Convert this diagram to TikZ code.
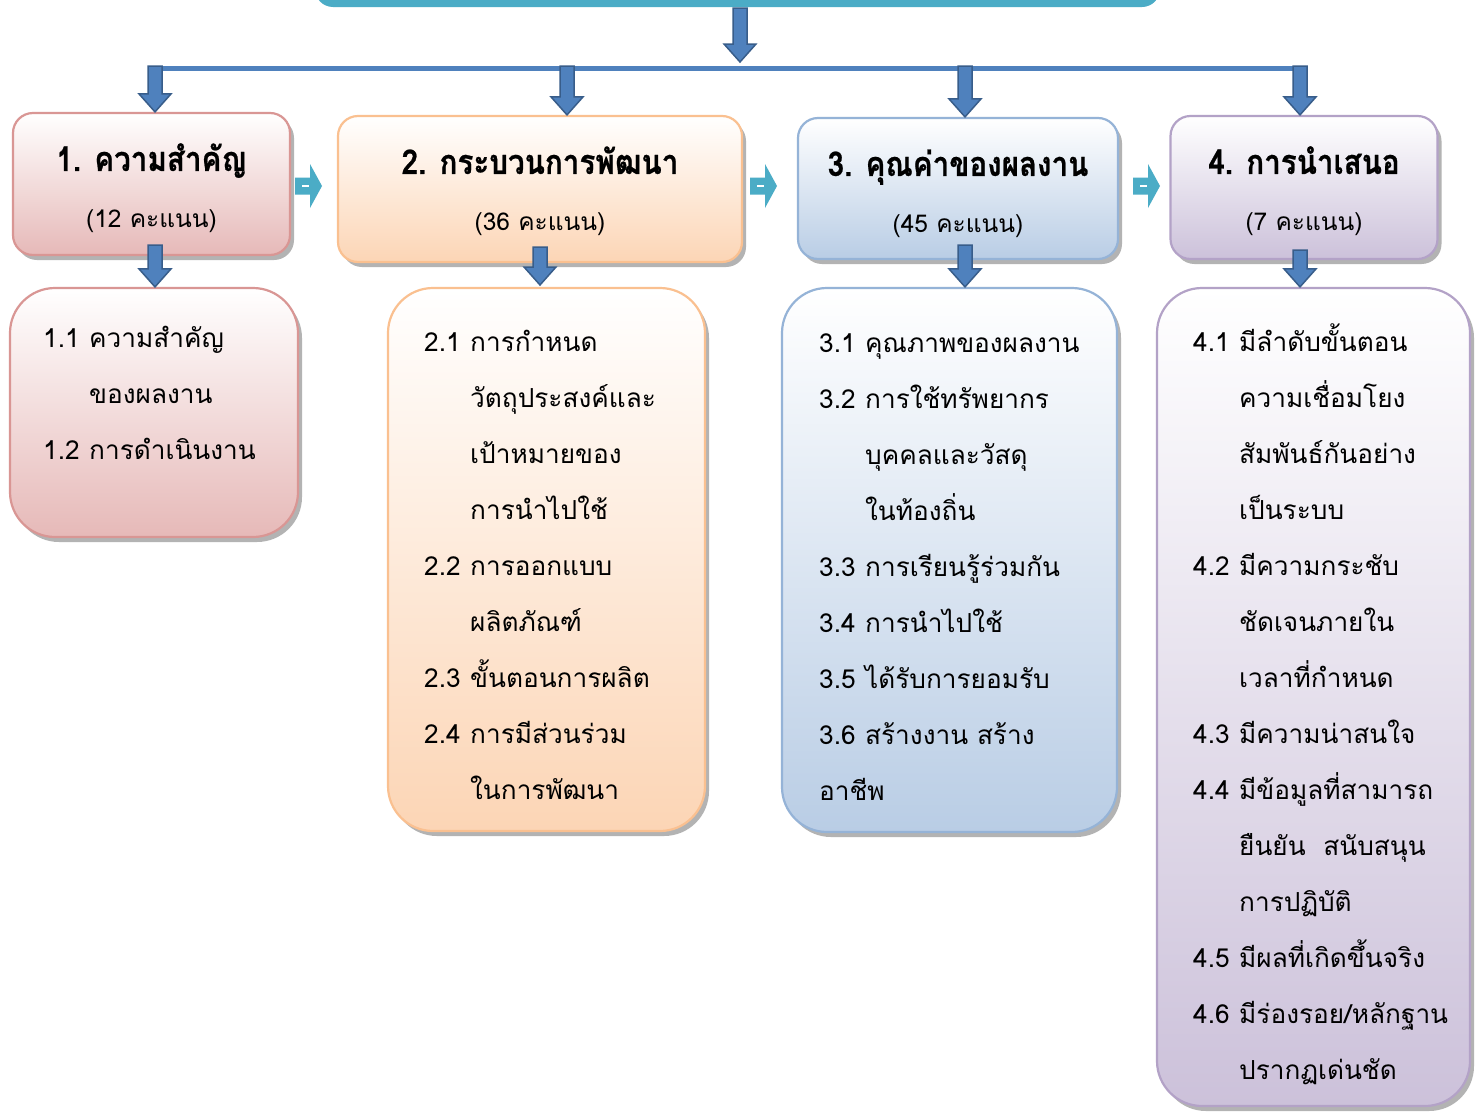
\documentclass[tikz,border=0pt]{standalone}
\usepackage{fontspec}
\newfontfamily\thai[Script=Thai]{Loma}
\newfontfamily\thaititle[Script=Thai,FakeStretch=0.87,FakeBold=0.6]{Loma}
\usetikzlibrary{calc,shadows}
\definecolor{teal1}{HTML}{4BACC6}
\definecolor{arrfill}{HTML}{4F81BD}
\definecolor{arrdraw}{HTML}{385D8A}
\definecolor{pinkB}{HTML}{D99694}\definecolor{pinkF}{HTML}{E6B9B8}
\definecolor{orgB}{HTML}{FAC090}\definecolor{orgF}{HTML}{FCD5B5}
\definecolor{bluB}{HTML}{95B3D7}\definecolor{bluF}{HTML}{B9CDE5}
\definecolor{purB}{HTML}{B3A2C7}\definecolor{purF}{HTML}{CCC1DA}
\definecolor{shad}{HTML}{A6A6A6}
\newcommand\itm[2]{\hbox{\makebox[46pt][l]{#1}#2}}
\newcommand\bdarrow[2]{\path[bigarrow] let \p1=#1, \p2=#2 in
  (\x1-7pt,\y1) -- (\x1+7pt,\y1) -- (\x1+7pt,\y2+18pt) -- (\x1+16pt,\y2+18pt)
  -- (\x1,\y2) -- (\x1-16pt,\y2+18pt) -- (\x1-7pt,\y2+18pt) -- cycle;}
\newcommand\srarrow[2]{\path[fill=teal1] let \p1=#1, \p2=#2 in
  (\x1,\y1+8.5pt) -- (\x2-12pt,\y1+8.5pt) -- (\x2-12pt,\y1+22pt) -- (\x2,\y1)
  -- (\x2-12pt,\y1-22pt) -- (\x2-12pt,\y1-8.5pt) -- (\x1,\y1-8.5pt) -- cycle;
  \path[draw=white,line width=2pt] let \p1=#1 in (\x1+7pt,\y1) -- (\x1+14pt,\y1);}
\tikzset{
  box/.style={rectangle, draw, line width=2.2pt, inner sep=0pt,
    drop shadow={shadow xshift=4pt, shadow yshift=-5pt, fill=shad, opacity=0.85}},
  topbox/.style={box, rounded corners=20pt},
  subbox/.style={box, rounded corners=45pt},
  pinkbox/.style={draw=pinkB, top color=white, bottom color=pinkF},
  orgbox/.style={draw=orgB, top color=white, bottom color=orgF},
  blubox/.style={draw=bluB, top color=white, bottom color=bluF},
  purbox/.style={draw=purB, top color=white, bottom color=purF},
  ttl/.style={font=\thaititle\bfseries\fontsize{34}{40}\selectfont, anchor=base, inner sep=0pt},
  sub/.style={font=\thai\fontsize{24.5}{30}\selectfont, anchor=base, inner sep=0pt},
  body/.style={font=\thai\fontsize{26.2}{56}\selectfont, anchor=base west, inner sep=0pt},
  bigarrow/.style={fill=arrfill, draw=arrdraw, line width=1.5pt, line join=miter},
}
\begin{document}
\begin{tikzpicture}[x=1pt,y=-1pt]
\useasboundingbox (0,0) rectangle (1479,1111);
\clip (0,0) rectangle (1479,1111);
\fill[white] (0,0) rectangle (1479,1111);
% top bar
\node[fill=teal1, rounded corners=18pt, minimum width=845pt, minimum height=60pt, inner sep=0pt] (top) at (737.5,-23) {};
% top boxes
\node[topbox,pinkbox,minimum width=277pt,minimum height=142pt] (b1) at (151.5,184) {};
\node[topbox,orgbox,minimum width=404pt,minimum height=146pt] (b2) at (540,189) {};
\node[topbox,blubox,minimum width=320pt,minimum height=141pt] (b3) at (958,188.5) {};
\node[topbox,purbox,minimum width=267pt,minimum height=143pt] (b4) at (1304,187.5) {};
% bottom boxes
\node[subbox,pinkbox,minimum width=288pt,minimum height=249pt] (c1) at (154,412.5) {};
\node[subbox,orgbox,minimum width=317pt,minimum height=543pt] (c2) at (546.5,559.5) {};
\node[subbox,blubox,minimum width=335pt,minimum height=544pt] (c3) at (949.5,560) {};
\node[subbox,purbox,minimum width=313pt,minimum height=818pt] (c4) at (1313.5,697) {};
% titles
\node[ttl] (t1) at ($(b1.north)+(0,59)$) {1. ความสำคัญ};
\node[sub] (s1) at ($(b1.north)+(0,116)$) {(12 คะแนน)};
\node[ttl] (t2) at ($(b2.north)+(0,59)$) {2. กระบวนการพัฒนา};
\node[sub] (s2) at ($(b2.north)+(0,116)$) {(36 คะแนน)};
\node[ttl] (t3) at ($(b3.north)+(0,59)$) {3. คุณค่าของผลงาน};
\node[sub] (s3) at ($(b3.north)+(0,116)$) {(45 คะแนน)};
\node[ttl] (t4) at ($(b4.north)+(0,59)$) {4. การนำเสนอ};
\node[sub] (s4) at ($(b4.north)+(0,116)$) {(7 คะแนน)};
% body texts
\node[body] (x1) at (43,347) {\vtop{\baselineskip=56pt
  \itm{1.1}{ความสำคัญ}\itm{}{ของผลงาน}\itm{1.2}{การดำเนินงาน}}};
\node[body] (x2) at (424,351) {\vtop{\baselineskip=56pt
  \itm{2.1}{การกำหนด}\itm{}{วัตถุประสงค์และ}\itm{}{เป้าหมายของ}\itm{}{การนำไปใช้}
  \itm{2.2}{การออกแบบ}\itm{}{ผลิตภัณฑ์}\itm{2.3}{ขั้นตอนการผลิต}
  \itm{2.4}{การมีส่วนร่วม}\itm{}{ในการพัฒนา}}};
\node[body] (x3) at (819,352) {\vtop{\baselineskip=56pt
  \itm{3.1}{คุณภาพของผลงาน}\itm{3.2}{การใช้ทรัพยากร}\itm{}{บุคคลและวัสดุ}
  \itm{}{ในท้องถิ่น}\itm{3.3}{การเรียนรู้ร่วมกัน}\itm{3.4}{การนำไปใช้}
  \itm{3.5}{ได้รับการยอมรับ}\itm{3.6}{สร้างงาน สร้าง}\hbox{อาชีพ}}};
\node[body] (x4) at (1193,351) {\vtop{\baselineskip=56pt
  \itm{4.1}{มีลำดับขั้นตอน}\itm{}{ความเชื่อมโยง}\itm{}{สัมพันธ์กันอย่าง}\itm{}{เป็นระบบ}
  \itm{4.2}{มีความกระชับ}\itm{}{ชัดเจนภายใน}\itm{}{เวลาที่กำหนด}
  \itm{4.3}{มีความน่าสนใจ}\itm{4.4}{มีข้อมูลที่สามารถ}\itm{}{ยืนยัน\ \ สนับสนุน}
  \itm{}{การปฏิบัติ}\itm{4.5}{มีผลที่เกิดขึ้นจริง}\itm{4.6}{มีร่องรอย/หลักฐาน}
  \itm{}{ปรากฏเด่นชัด}}};
% connectors
\coordinate (j0) at (740,8);
\coordinate (jl) at (148,68);
\coordinate (jr) at (1307,68);
\coordinate (j1) at (155,66);
\coordinate (j2) at (567,66);
\coordinate (j3) at (965,66);
\coordinate (j4) at (1300,66);
\draw[arrfill, line width=5pt] (jl) -- (jr);
\bdarrow{(j0)}{(740,62)}
\bdarrow{(j1)}{(j1 |- b1.north)}
\bdarrow{(j2)}{(j2 |- b2.north)}
\bdarrow{(j3)}{(j3 |- b3.north)}
\bdarrow{(j4)}{(j4 |- b4.north)}
\coordinate (k1) at (155,245);
\coordinate (k2) at (540,247);
\coordinate (k3) at (965,245);
\coordinate (k4) at (1300,250);
\bdarrow{(k1)}{(k1 |- c1.north)}
\bdarrow{(k2)}{(540,285)}
\bdarrow{(k3)}{(k3 |- c3.north)}
\bdarrow{(k4)}{(k4 |- c4.north)}
\coordinate (r1a) at (295,186); \coordinate (r1b) at (322,186);
\coordinate (r2a) at (750,186); \coordinate (r2b) at (777,186);
\coordinate (r3a) at (1133,186); \coordinate (r3b) at (1160,186);
\srarrow{(r1a)}{(r1b)}
\srarrow{(r2a)}{(r2b)}
\srarrow{(r3a)}{(r3b)}
\end{tikzpicture}
\end{document}
